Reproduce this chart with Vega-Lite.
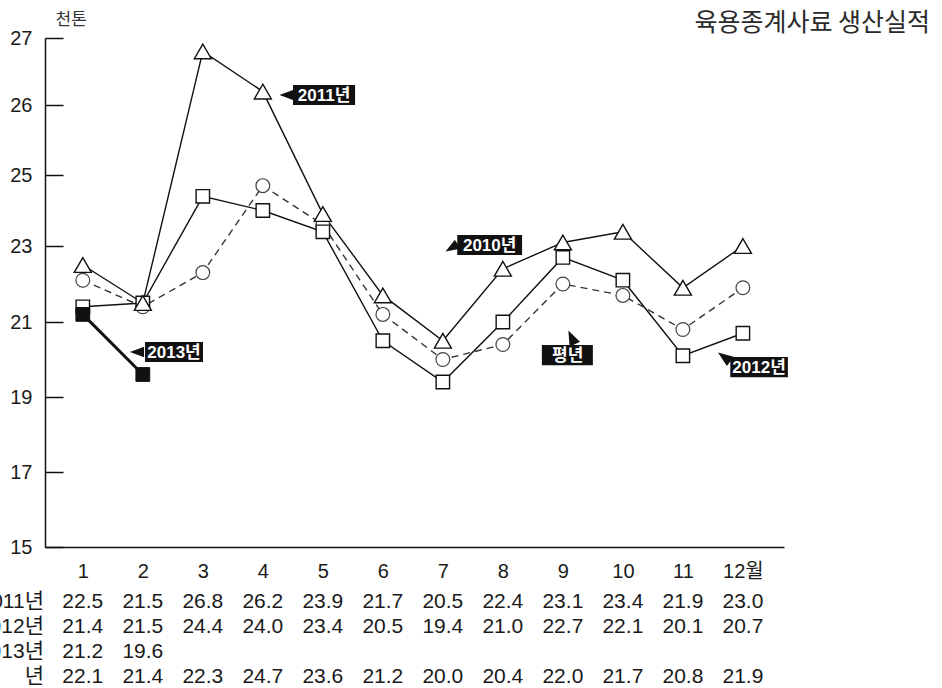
{
  "$schema": "https://vega.github.io/schema/vega-lite/v6.json",
  "autosize": "none",
  "padding": {"left": 45, "top": 38, "right": 158, "bottom": 141},
  "background": "white",
  "width": 739,
  "height": 509,
  "config": {"view": {"stroke": null}, "font": "'Liberation Sans', 'Noto Sans CJK KR'"},
  "title": {"text": "육용종계사료 생산실적", "anchor": "end", "frame": "group", "dx": 146, "offset": -46, "baseline": "alphabetic", "fontSize": 25, "font": "'Noto Sans CJK KR'", "fontWeight": "normal", "color": "#2a2a2a"},
  "datasets": {
    "series": [
      {"series": "2011년", "month": 1, "value": 22.5}, {"series": "2011년", "month": 2, "value": 21.5},
      {"series": "2011년", "month": 3, "value": 26.8}, {"series": "2011년", "month": 4, "value": 26.2},
      {"series": "2011년", "month": 5, "value": 23.9}, {"series": "2011년", "month": 6, "value": 21.7},
      {"series": "2011년", "month": 7, "value": 20.5}, {"series": "2011년", "month": 8, "value": 22.4},
      {"series": "2011년", "month": 9, "value": 23.1}, {"series": "2011년", "month": 10, "value": 23.4},
      {"series": "2011년", "month": 11, "value": 21.9}, {"series": "2011년", "month": 12, "value": 23.0},
      {"series": "2012년", "month": 1, "value": 21.4}, {"series": "2012년", "month": 2, "value": 21.5},
      {"series": "2012년", "month": 3, "value": 24.4}, {"series": "2012년", "month": 4, "value": 24.0},
      {"series": "2012년", "month": 5, "value": 23.4}, {"series": "2012년", "month": 6, "value": 20.5},
      {"series": "2012년", "month": 7, "value": 19.4}, {"series": "2012년", "month": 8, "value": 21.0},
      {"series": "2012년", "month": 9, "value": 22.7}, {"series": "2012년", "month": 10, "value": 22.1},
      {"series": "2012년", "month": 11, "value": 20.1}, {"series": "2012년", "month": 12, "value": 20.7},
      {"series": "평년", "month": 1, "value": 22.1}, {"series": "평년", "month": 2, "value": 21.4},
      {"series": "평년", "month": 3, "value": 22.3}, {"series": "평년", "month": 4, "value": 24.7},
      {"series": "평년", "month": 5, "value": 23.6}, {"series": "평년", "month": 6, "value": 21.2},
      {"series": "평년", "month": 7, "value": 20.0}, {"series": "평년", "month": 8, "value": 20.4},
      {"series": "평년", "month": 9, "value": 22.0}, {"series": "평년", "month": 10, "value": 21.7},
      {"series": "평년", "month": 11, "value": 20.8}, {"series": "평년", "month": 12, "value": 21.9},
      {"series": "2013년", "month": 1, "value": 21.2}, {"series": "2013년", "month": 2, "value": 19.6}
    ],
    "labels": [
      {"label": "2011년", "x": 4.503, "x2": 5.537, "y": 26.30, "y2": 26.0, "cx": 5.02, "cy": 26.15, "px": 4.395, "py": 26.149, "dir": "left"},
      {"label": "2010년", "x": 7.24, "x2": 8.32, "y": 23.31, "y2": 22.76, "cx": 7.78, "cy": 23.03, "px": 7.145, "py": 22.95, "dir": "downleft"},
      {"label": "평년", "x": 8.65, "x2": 9.50, "y": 20.39, "y2": 19.85, "cx": 9.08, "cy": 20.12, "px": 9.145, "py": 20.59, "dir": "up"},
      {"label": "2012년", "x": 11.79, "x2": 12.75, "y": 20.07, "y2": 19.53, "cx": 12.27, "cy": 19.80, "px": 11.687, "py": 20.07, "dir": "upleft"},
      {"label": "2013년", "x": 2.037, "x2": 3.003, "y": 20.467, "y2": 19.933, "cx": 2.52, "cy": 20.2, "px": 1.903, "py": 20.2, "dir": "left"}
    ]
  },
  "layer": [
    {
      "data": {"name": "series"},
      "transform": [{"filter": "datum.series == '2011년' || datum.series == '2012년'"}],
      "mark": {"type": "line", "color": "#111", "strokeWidth": 1.4},
      "encoding": {
        "x": {"field": "month", "type": "quantitative", "scale": {"domain": [0.37, 12.685], "nice": false, "zero": false},
          "axis": {"values": [1,2,3,4,5,6,7,8,9,10,11,12], "title": null, "grid": false, "domainColor": "#111", "domainWidth": 1.5, "ticks": false, "tickSize": 0, "labelPadding": 30, "labelBaseline": "alphabetic", "labelFontSize": 20, "labelColor": "#1a1a1a", "labelExpr": "datum.value == 12 ? '12월' : datum.value", "labelFlush": false, "labelOverlap": false}},
        "y": {"field": "value", "type": "quantitative", "scale": {"domain": [15,17,19,21,23,25,26,27], "range": [509,434,359,284,208,137,67,0], "nice": false, "zero": false},
          "axis": {"title": "천톤", "titleAngle": 0, "titleAlign": "left", "titleBaseline": "alphabetic", "titleX": 10, "titleY": -14, "titleFont": "'Noto Sans CJK KR'", "titleFontSize": 17, "titleFontWeight": "normal", "titleColor": "#333",
            "values": [15,17,19,21,23,25,26,27], "grid": false, "domainColor": "#111", "domainWidth": 1.5, "tickColor": "#111", "tickWidth": 1.5, "tickSize": -18, "labelPadding": 31, "labelFontSize": 20, "labelColor": "#1a1a1a", "labelBaseline": "middle", "labelFlush": false, "labelOverlap": false}},
        "detail": {"field": "series"}
      }
    },
    {
      "data": {"name": "series"},
      "transform": [{"filter": "datum.series == '평년'"}],
      "mark": {"type": "line", "color": "#333", "strokeWidth": 1.4, "strokeDash": [7, 5]},
      "encoding": {
        "x": {"field": "month", "type": "quantitative", "scale": {"domain": [0.37, 12.685], "nice": false, "zero": false}},
        "y": {"field": "value", "type": "quantitative", "scale": {"domain": [15,17,19,21,23,25,26,27], "range": [509,434,359,284,208,137,67,0], "nice": false, "zero": false}}
      }
    },
    {
      "data": {"name": "series"},
      "transform": [{"filter": "datum.series == '2013년'"}],
      "mark": {"type": "line", "color": "#111", "strokeWidth": 3},
      "encoding": {
        "x": {"field": "month", "type": "quantitative", "scale": {"domain": [0.37, 12.685], "nice": false, "zero": false}},
        "y": {"field": "value", "type": "quantitative", "scale": {"domain": [15,17,19,21,23,25,26,27], "range": [509,434,359,284,208,137,67,0], "nice": false, "zero": false}}
      }
    },
    {
      "data": {"name": "series"},
      "transform": [{"filter": "datum.series == '평년'"}],
      "mark": {"type": "point", "shape": "circle", "size": 190, "filled": true, "fill": "white", "stroke": "#444", "strokeWidth": 1.2, "opacity": 1},
      "encoding": {
        "x": {"field": "month", "type": "quantitative", "scale": {"domain": [0.37, 12.685], "nice": false, "zero": false}},
        "y": {"field": "value", "type": "quantitative", "scale": {"domain": [15,17,19,21,23,25,26,27], "range": [509,434,359,284,208,137,67,0], "nice": false, "zero": false}}
      }
    },
    {
      "data": {"name": "series"},
      "transform": [{"filter": "datum.series == '2012년'"}],
      "mark": {"type": "point", "shape": "square", "size": 180, "filled": true, "fill": "white", "stroke": "#111", "strokeWidth": 1.4, "opacity": 1},
      "encoding": {
        "x": {"field": "month", "type": "quantitative", "scale": {"domain": [0.37, 12.685], "nice": false, "zero": false}},
        "y": {"field": "value", "type": "quantitative", "scale": {"domain": [15,17,19,21,23,25,26,27], "range": [509,434,359,284,208,137,67,0], "nice": false, "zero": false}}
      }
    },
    {
      "data": {"name": "series"},
      "transform": [{"filter": "datum.series == '2011년'"}],
      "mark": {"type": "point", "shape": "triangle-up", "size": 290, "filled": true, "fill": "white", "stroke": "#111", "strokeWidth": 1.4, "opacity": 1},
      "encoding": {
        "x": {"field": "month", "type": "quantitative", "scale": {"domain": [0.37, 12.685], "nice": false, "zero": false}},
        "y": {"field": "value", "type": "quantitative", "scale": {"domain": [15,17,19,21,23,25,26,27], "range": [509,434,359,284,208,137,67,0], "nice": false, "zero": false}}
      }
    },
    {
      "data": {"name": "series"},
      "transform": [{"filter": "datum.series == '2013년'"}],
      "mark": {"type": "point", "shape": "square", "size": 190, "filled": true, "fill": "#111", "stroke": "#111", "strokeWidth": 1, "opacity": 1},
      "encoding": {
        "x": {"field": "month", "type": "quantitative", "scale": {"domain": [0.37, 12.685], "nice": false, "zero": false}},
        "y": {"field": "value", "type": "quantitative", "scale": {"domain": [15,17,19,21,23,25,26,27], "range": [509,434,359,284,208,137,67,0], "nice": false, "zero": false}}
      }
    },
    {
      "data": {"name": "labels"},
      "mark": {"type": "rect", "color": "#111"},
      "encoding": {
        "x": {"field": "x", "type": "quantitative", "scale": {"domain": [0.37, 12.685], "nice": false, "zero": false}},
        "x2": {"field": "x2"},
        "y": {"field": "y", "type": "quantitative", "scale": {"domain": [15,17,19,21,23,25,26,27], "range": [509,434,359,284,208,137,67,0], "nice": false, "zero": false}},
        "y2": {"field": "y2"}
      }
    },
    {
      "data": {"name": "labels"},
      "mark": {"type": "text", "color": "white", "fontSize": 17, "fontWeight": "bold", "baseline": "middle", "align": "center", "dy": 1},
      "encoding": {
        "x": {"field": "cx", "type": "quantitative", "scale": {"domain": [0.37, 12.685], "nice": false, "zero": false}},
        "y": {"field": "cy", "type": "quantitative", "scale": {"domain": [15,17,19,21,23,25,26,27], "range": [509,434,359,284,208,137,67,0], "nice": false, "zero": false}},
        "text": {"field": "label"}
      }
    },
    {
      "data": {"name": "labels"},
      "transform": [{"filter": "datum.dir == 'left'"}],
      "mark": {"type": "point", "shape": "M -1 0 L 1 -0.75 L 1 0.75 Z", "size": 200, "filled": true, "color": "#111", "opacity": 1, "angle": 0},
      "encoding": {
        "x": {"field": "px", "type": "quantitative", "scale": {"domain": [0.37, 12.685], "nice": false, "zero": false}},
        "y": {"field": "py", "type": "quantitative", "scale": {"domain": [15,17,19,21,23,25,26,27], "range": [509,434,359,284,208,137,67,0], "nice": false, "zero": false}}
      }
    },
    {
      "data": {"name": "labels"},
      "transform": [{"filter": "datum.dir == 'downleft'"}],
      "mark": {"type": "point", "shape": "M -1 0 L 1 -0.75 L 1 0.75 Z", "size": 200, "filled": true, "color": "#111", "opacity": 1, "angle": -31},
      "encoding": {
        "x": {"field": "px", "type": "quantitative", "scale": {"domain": [0.37, 12.685], "nice": false, "zero": false}},
        "y": {"field": "py", "type": "quantitative", "scale": {"domain": [15,17,19,21,23,25,26,27], "range": [509,434,359,284,208,137,67,0], "nice": false, "zero": false}}
      }
    },
    {
      "data": {"name": "labels"},
      "transform": [{"filter": "datum.dir == 'up'"}],
      "mark": {"type": "point", "shape": "M -1 0 L 1 -0.75 L 1 0.75 Z", "size": 230, "filled": true, "color": "#111", "opacity": 1, "angle": 65},
      "encoding": {
        "x": {"field": "px", "type": "quantitative", "scale": {"domain": [0.37, 12.685], "nice": false, "zero": false}},
        "y": {"field": "py", "type": "quantitative", "scale": {"domain": [15,17,19,21,23,25,26,27], "range": [509,434,359,284,208,137,67,0], "nice": false, "zero": false}}
      }
    },
    {
      "data": {"name": "labels"},
      "transform": [{"filter": "datum.dir == 'upleft'"}],
      "mark": {"type": "point", "shape": "M -1 0 L 1 -0.75 L 1 0.75 Z", "size": 230, "filled": true, "color": "#111", "opacity": 1, "angle": 36},
      "encoding": {
        "x": {"field": "px", "type": "quantitative", "scale": {"domain": [0.37, 12.685], "nice": false, "zero": false}},
        "y": {"field": "py", "type": "quantitative", "scale": {"domain": [15,17,19,21,23,25,26,27], "range": [509,434,359,284,208,137,67,0], "nice": false, "zero": false}}
      }
    },
    {
      "data": {"name": "series"},
      "transform": [{"filter": "datum.series == '2011년'"}],
      "mark": {"type": "text", "fontSize": 21, "baseline": "alphabetic", "align": "center", "color": "#1a1a1a", "dy": 61},
      "encoding": {
        "x": {"field": "month", "type": "quantitative", "scale": {"domain": [0.37, 12.685], "nice": false, "zero": false}},
        "y": {"datum": 15, "type": "quantitative", "scale": {"domain": [15,17,19,21,23,25,26,27], "range": [509,434,359,284,208,137,67,0], "nice": false, "zero": false}},
        "text": {"field": "value", "type": "quantitative", "format": ".1f"}
      }
    },
    {
      "data": {"name": "series"},
      "transform": [{"filter": "datum.series == '2012년'"}],
      "mark": {"type": "text", "fontSize": 21, "baseline": "alphabetic", "align": "center", "color": "#1a1a1a", "dy": 86},
      "encoding": {
        "x": {"field": "month", "type": "quantitative", "scale": {"domain": [0.37, 12.685], "nice": false, "zero": false}},
        "y": {"datum": 15, "type": "quantitative", "scale": {"domain": [15,17,19,21,23,25,26,27], "range": [509,434,359,284,208,137,67,0], "nice": false, "zero": false}},
        "text": {"field": "value", "type": "quantitative", "format": ".1f"}
      }
    },
    {
      "data": {"name": "series"},
      "transform": [{"filter": "datum.series == '2013년'"}],
      "mark": {"type": "text", "fontSize": 21, "baseline": "alphabetic", "align": "center", "color": "#1a1a1a", "dy": 111},
      "encoding": {
        "x": {"field": "month", "type": "quantitative", "scale": {"domain": [0.37, 12.685], "nice": false, "zero": false}},
        "y": {"datum": 15, "type": "quantitative", "scale": {"domain": [15,17,19,21,23,25,26,27], "range": [509,434,359,284,208,137,67,0], "nice": false, "zero": false}},
        "text": {"field": "value", "type": "quantitative", "format": ".1f"}
      }
    },
    {
      "data": {"name": "series"},
      "transform": [{"filter": "datum.series == '평년'"}],
      "mark": {"type": "text", "fontSize": 21, "baseline": "alphabetic", "align": "center", "color": "#1a1a1a", "dy": 136},
      "encoding": {
        "x": {"field": "month", "type": "quantitative", "scale": {"domain": [0.37, 12.685], "nice": false, "zero": false}},
        "y": {"datum": 15, "type": "quantitative", "scale": {"domain": [15,17,19,21,23,25,26,27], "range": [509,434,359,284,208,137,67,0], "nice": false, "zero": false}},
        "text": {"field": "value", "type": "quantitative", "format": ".1f"}
      }
    },
    {
      "data": {"name": "series"},
      "transform": [{"filter": "datum.month == 1"}, {"filter": "datum.series == '2011년'"}],
      "mark": {"type": "text", "fontSize": 21, "baseline": "alphabetic", "align": "right", "color": "#1a1a1a", "dy": 61},
      "encoding": {
        "x": {"datum": 0.353, "type": "quantitative", "scale": {"domain": [0.37, 12.685], "nice": false, "zero": false}},
        "y": {"datum": 15, "type": "quantitative", "scale": {"domain": [15,17,19,21,23,25,26,27], "range": [509,434,359,284,208,137,67,0], "nice": false, "zero": false}},
        "text": {"field": "series"}
      }
    },
    {
      "data": {"name": "series"},
      "transform": [{"filter": "datum.month == 1"}, {"filter": "datum.series == '2012년'"}],
      "mark": {"type": "text", "fontSize": 21, "baseline": "alphabetic", "align": "right", "color": "#1a1a1a", "dy": 86},
      "encoding": {
        "x": {"datum": 0.353, "type": "quantitative", "scale": {"domain": [0.37, 12.685], "nice": false, "zero": false}},
        "y": {"datum": 15, "type": "quantitative", "scale": {"domain": [15,17,19,21,23,25,26,27], "range": [509,434,359,284,208,137,67,0], "nice": false, "zero": false}},
        "text": {"field": "series"}
      }
    },
    {
      "data": {"name": "series"},
      "transform": [{"filter": "datum.month == 1"}, {"filter": "datum.series == '2013년'"}],
      "mark": {"type": "text", "fontSize": 21, "baseline": "alphabetic", "align": "right", "color": "#1a1a1a", "dy": 111},
      "encoding": {
        "x": {"datum": 0.353, "type": "quantitative", "scale": {"domain": [0.37, 12.685], "nice": false, "zero": false}},
        "y": {"datum": 15, "type": "quantitative", "scale": {"domain": [15,17,19,21,23,25,26,27], "range": [509,434,359,284,208,137,67,0], "nice": false, "zero": false}},
        "text": {"field": "series"}
      }
    },
    {
      "data": {"name": "series"},
      "transform": [{"filter": "datum.month == 1"}, {"filter": "datum.series == '평년'"}],
      "mark": {"type": "text", "fontSize": 21, "baseline": "alphabetic", "align": "right", "color": "#1a1a1a", "dy": 136, "text": "평\u00a0\u00a0\u00a0\u00a0\u00a0년"},
      "encoding": {
        "x": {"datum": 0.353, "type": "quantitative", "scale": {"domain": [0.37, 12.685], "nice": false, "zero": false}},
        "y": {"datum": 15, "type": "quantitative", "scale": {"domain": [15,17,19,21,23,25,26,27], "range": [509,434,359,284,208,137,67,0], "nice": false, "zero": false}}
      }
    }
  ]
}
